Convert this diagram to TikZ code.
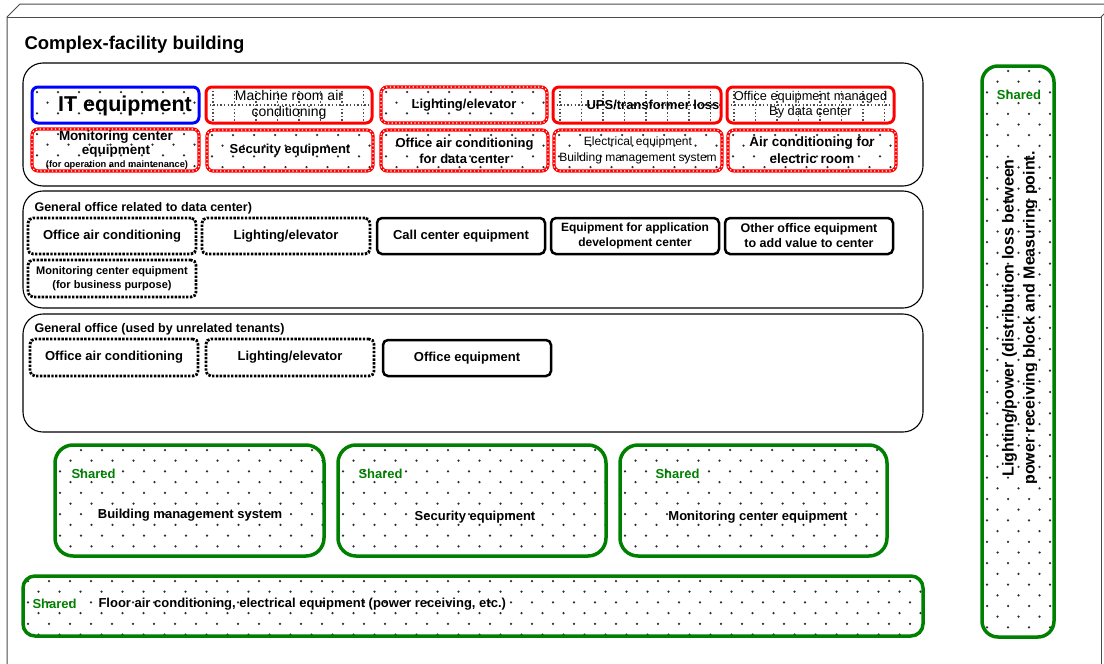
\documentclass[tikz,border=0pt]{standalone}
\usepackage{fontspec}
\setmainfont{Liberation Sans}
\newcommand\fsz[2]{\fontsize{#1}{#2}\selectfont}
\definecolor{shgreen}{RGB}{0,128,0}
\definecolor{dotc}{RGB}{45,45,45}
\tikzset{
  speckle/.style={path picture={%
    \pgfpointdiff{\pgfpointanchor{path picture bounding box}{north west}}%
                 {\pgfpointanchor{path picture bounding box}{south east}}%
    \pgfgetlastxy{\pwd}{\pht}%
    \pgfmathtruncatemacro\ncol{abs(\pwd)/21+1}%
    \pgfmathtruncatemacro\nrow{abs(\pht)/10.7+1}%
    \foreach \j in {0,...,\nrow}{\foreach \i in {0,...,\ncol}{%
      \pgfmathsetmacro\dx{5+\i*21+mod(\j,2)*10.5}%
      \pgfmathsetmacro\dy{5+\j*10.7}%
      \fill[dotc] ([shift={(\dx pt,-\dy pt)}]path picture bounding box.north west) circle[radius=1.25pt];
    }}%
  }},
  gridfill/.style={path picture={%
    \pgfpointdiff{\pgfpointanchor{path picture bounding box}{north west}}%
                 {\pgfpointanchor{path picture bounding box}{south east}}%
    \pgfgetlastxy{\pwd}{\pht}%
    \pgfmathtruncatemacro\ncol{abs(\pwd)/21.5}%
    \foreach \i in {0,...,\ncol}{%
      \pgfmathsetmacro\dx{7+\i*21.5}%
      \draw[gridln] ([xshift=\dx pt]path picture bounding box.north west) -- ([xshift=\dx pt]path picture bounding box.south west);
    }%
    \draw[gridln] (path picture bounding box.west) -- (path picture bounding box.east);
  }},
  gridln/.style={draw=black!70,line width=1.3pt,dash pattern=on 1.3pt off 2.3pt},
}
\begin{document}
\begin{tikzpicture}[x=1pt,y=-1pt,
  spot/.style n args={4}{anchor=north west,at={(#1,#2)},minimum width={(#3-#1)*1pt},minimum height={(#4-#2)*1pt}},
  cell/.style={rectangle,inner sep=0pt,outer sep=0pt,rounded corners=6pt,align=center},
  region/.style={cell,draw=black,line width=1.1pt,rounded corners=20pt},
  itcell/.style={cell,draw=blue,line width=3pt,speckle},
  redcell/.style={cell,draw=red,line width=3pt,gridfill},
  ringcell/.style={cell,draw=red,line width=3.2pt,speckle},
  ringholes/.style={draw=white,line width=1.2pt,dash pattern=on 1.2pt off 2.6pt,rounded corners=6pt},
  dotcell/.style={cell,draw=black,line width=2.8pt,dash pattern=on 2.4pt off 1.4pt,rounded corners=5pt},
  solidcell/.style={cell,draw=black,line width=2.5pt,rounded corners=5pt},
  sharedcell/.style={cell,draw=shgreen,line width=3.5pt,rounded corners=18pt,speckle},
  cubeline/.style={draw=black!70,line width=1pt},
  tb/.style={font=\bfseries\fsz{13}{16}},
  lbl/.style={anchor=base west,font=\bfseries\fsz{12.5}{14}},
  shlabel/.style={text=shgreen,font=\bfseries\fsz{13}{15}},
]
\clip (0,0) rectangle (1104,664);
\fill[white] (0,0) rectangle (1104,664);

% cube-shaped outer frame
\draw[cubeline] (7,670) -- (7,17) -- (20,4) -- (1110,4);
\draw[cubeline] (7,17) -- (1101,17) -- (1101,670);
\draw[cubeline] (1101,17) -- (1114,4);

\node[anchor=base west,font=\bfseries\fsz{18.5}{20}] (title) at (21,49) {Complex-facility building};

% data center block
\node[region,spot={23}{63}{923}{186}] (dc) {};
\node[itcell,spot={32}{87}{199}{123}] (it) {};
\node[font=\bfseries\fsz{21.5}{24}] (itt) at (125,106) {IT equipment};
\node[redcell,spot={206}{87}{372}{123},font=\fsz{14}{16}] (mra) {Machine room air\\conditioning};
\node[ringcell,spot={381}{87}{547}{123},tb] (lig1) {Lighting/elevator};
\node[redcell,spot={553}{87}{721}{123}] (ups) {};
\node[tb] (upst) at (653,105) {UPS/transformer loss};
\node[redcell,spot={727}{87}{894}{123},font=\fsz{12.8}{15}] (oem) {Office equipment managed\\By data center};
\node[ringcell,spot={32}{129}{199}{171}] (mon) {};
\node[font=\bfseries\fsz{13.5}{15}] (mon1) at (116,137) {Monitoring center};
\node[font=\bfseries\fsz{13.5}{15}] (mon2l) at (116,151) {equipment};
\node[font=\bfseries\fsz{9.3}{11}] (mon3) at (117,165) {(for operation and maintenance)};
\node[ringcell,spot={207}{130}{373}{171},tb] (sec) {Security equipment};
\node[ringcell,spot={381}{130}{548}{171},tb] (oac1) {Office air conditioning\\for data center};
\node[ringcell,spot={554}{130}{722}{171},font=\fsz{12}{16}] (elec) {Electrical equipment\\Building management system};
\node[ringcell,spot={728}{130}{896}{171},font=\bfseries\fsz{13.5}{17}] (acer) {Air conditioning for\\electric room};
\foreach \n in {lig1,mon,sec,oac1,elec,acer}
  \draw[ringholes] (\n.north west) rectangle (\n.south east);

% general office related to the data center
\node[region,spot={23}{191}{923}{308}] (rel) {};
\node[lbl] (relt) at (31,211) {General office related to data center)};
\node[dotcell,spot={28}{218}{196}{254},tb] (oac2) {Office air conditioning};
\node[dotcell,spot={202}{218}{370}{254},tb] (lig2) {Lighting/elevator};
\node[solidcell,spot={377}{218}{545}{254},tb] (call) {Call center equipment};
\node[solidcell,spot={551}{218}{719}{254},font=\bfseries\fsz{12}{15}] (appd) {Equipment for application\\development center};
\node[solidcell,spot={725}{218}{893}{254},font=\bfseries\fsz{12.5}{15}] (oth) {Other office equipment\\to add value to center};
\node[dotcell,spot={28}{260}{196}{297},font=\bfseries\fsz{11}{14}] (mon4) {Monitoring center equipment\\(for business purpose)};

% general office of unrelated tenants
\node[region,spot={23}{314}{923}{432}] (ten) {};
\node[lbl] (tent) at (31,332) {General office (used by unrelated tenants)};
\node[dotcell,spot={30}{339}{198}{376},tb] (oac3) {Office air conditioning};
\node[dotcell,spot={206}{339}{374}{376},tb] (lig3) {Lighting/elevator};
\node[solidcell,spot={383}{340}{551}{376},tb] (offe) {Office equipment};

% shared facilities
\node[sharedcell,spot={55}{445}{324}{556}] (bms) {};
\node[shlabel,anchor=west] (bmss) at (68,474) {Shared};
\node[tb] (bmst) at (190,515) {Building management system};
\node[sharedcell,spot={338}{445}{606}{556}] (sece) {};
\node[shlabel,anchor=west] (secs) at (355,474) {Shared};
\node[tb] (sect) at (475,517) {Security equipment};
\node[sharedcell,spot={620}{445}{887}{556}] (monc) {};
\node[shlabel,anchor=west] (mons) at (652,474) {Shared};
\node[tb] (mont) at (758,517) {Monitoring center equipment};

\node[sharedcell,rounded corners=12pt,spot={23}{576}{923}{636}] (flr) {};
\node[shlabel,anchor=west] (flrs) at (29,604) {Shared};
\node[tb,anchor=west] (flrt) at (95,604) {Floor air conditioning, electrical equipment (power receiving, etc.)};

\node[sharedcell,rounded corners=16pt,spot={982}{66}{1054}{637}] (pwr) {};
\node[shlabel] (pwrs) at (1019,95) {Shared};
\begin{scope}
  \clip (960,66) rectangle (1036,640);
  \node[rotate=90,align=center,font=\bfseries\fsz{16}{21}] (pwrt) at (1020,318)
    {Lighting/power (distribution loss between\\power receiving block and Measuring point.};
\end{scope}
\end{tikzpicture}
\end{document}
